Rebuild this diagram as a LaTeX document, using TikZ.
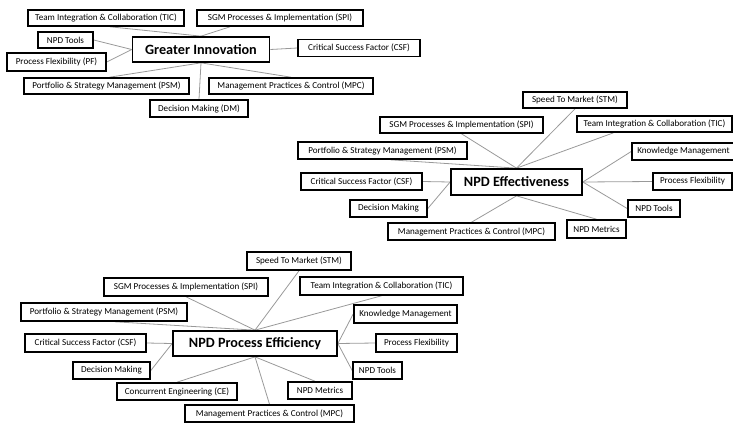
\documentclass[tikz,border=0pt]{standalone}
\usepackage{fontspec}
\setmainfont{Carlito}
\usetikzlibrary{backgrounds}
\begin{document}
\begin{tikzpicture}[x=1pt,y=-1pt,
  sat/.style={draw=black, line width=1.6pt, fill=white, inner sep=0pt, font=\fontsize{9.1}{10}\selectfont},
  hub/.style={sat, line width=1.7pt, font=\bfseries\fontsize{14.2}{16}\selectfont},
  conn/.style={draw=black!40, line width=0.8pt}]
\useasboundingbox (0,0) rectangle (733,424);
\clip (0,0) rectangle (733,424);
% ---------- Cluster 1: Greater Innovation ----------
\node[hub, minimum width=137pt, minimum height=25pt] (g) at (201,49.5) {Greater Innovation};
\node[sat, minimum width=156pt, minimum height=16pt] (g-tic) at (106,18) {Team Integration \& Collaboration (TIC)};
\node[sat, minimum width=166pt, minimum height=16pt] (g-spi) at (280,18) {SGM Processes \& Implementation (SPI)};
\node[sat, minimum width=55pt, minimum height=16pt] (g-tools) at (65.5,40) {NPD Tools};
\node[sat, minimum width=99pt, minimum height=18pt] (g-pf) at (56.5,62) {Process Flexibility (PF)};
\node[sat, minimum width=122pt, minimum height=17pt] (g-csf) at (359,48) {Critical Success Factor (CSF)};
\node[sat, minimum width=165pt, minimum height=16pt] (g-psm) at (106.5,86) {Portfolio \& Strategy Management (PSM)};
\node[sat, minimum width=164pt, minimum height=16pt] (g-mpc) at (291,86) {Management Practices \& Control (MPC)};
\node[sat, minimum width=98pt, minimum height=17pt] (g-dm) at (199,108.5) {Decision Making (DM)};
% ---------- Cluster 2: NPD Effectiveness ----------
\node[hub, minimum width=131pt, minimum height=26pt] (e) at (516.5,182) {NPD Effectiveness};
\node[sat, minimum width=104pt, minimum height=16pt] (e-stm) at (575,100) {Speed To Market (STM)};
\node[sat, minimum width=163pt, minimum height=16pt] (e-spi) at (461.5,125) {SGM Processes \& Implementation (SPI)};
\node[sat, minimum width=155pt, minimum height=16pt] (e-tic) at (654.5,124) {Team Integration \& Collaboration (TIC)};
\node[sat, minimum width=169pt, minimum height=17pt] (e-psm) at (382.5,150.5) {Portfolio \& Strategy Management (PSM)};
\node[sat, minimum width=103pt, minimum height=17pt] (e-km) at (683.5,151.5) {Knowledge Management};
\node[sat, minimum width=121pt, minimum height=17pt] (e-csf) at (361.5,181.5) {Critical Success Factor (CSF)};
\node[sat, minimum width=79pt, minimum height=17pt] (e-pf) at (692.5,181.5) {Process Flexibility};
\node[sat, minimum width=77pt, minimum height=17pt] (e-dm) at (388.5,208.5) {Decision Making};
\node[sat, minimum width=52pt, minimum height=17pt] (e-tools) at (654,208.5) {NPD Tools};
\node[sat, minimum width=167pt, minimum height=17pt] (e-mpc) at (471.5,231.5) {Management Practices \& Control (MPC)};
\node[sat, minimum width=59pt, minimum height=18pt] (e-met) at (596.5,229) {NPD Metrics};
% ---------- Cluster 3: NPD Process Efficiency ----------
\node[hub, minimum width=164pt, minimum height=25pt] (p) at (255,343.5) {NPD Process Efficiency};
\node[sat, minimum width=104pt, minimum height=18pt] (p-stm) at (299,261) {Speed To Market (STM)};
\node[sat, minimum width=164pt, minimum height=18pt] (p-spi) at (186,287) {SGM Processes \& Implementation (SPI)};
\node[sat, minimum width=163pt, minimum height=18pt] (p-tic) at (381.5,286) {Team Integration \& Collaboration (TIC)};
\node[sat, minimum width=166pt, minimum height=18pt] (p-psm) at (104,312) {Portfolio \& Strategy Management (PSM)};
\node[sat, minimum width=103pt, minimum height=18pt] (p-km) at (405.5,314) {Knowledge Management};
\node[sat, minimum width=121pt, minimum height=18pt] (p-csf) at (85.5,343) {Critical Success Factor (CSF)};
\node[sat, minimum width=81pt, minimum height=18pt] (p-pf) at (416.5,343) {Process Flexibility};
\node[sat, minimum width=77pt, minimum height=17pt] (p-dm) at (111.5,370.5) {Decision Making};
\node[sat, minimum width=49pt, minimum height=17pt] (p-tools) at (377.5,370.5) {NPD Tools};
\node[sat, minimum width=120pt, minimum height=17pt] (p-ce) at (177,391.5) {Concurrent Engineering (CE)};
\node[sat, minimum width=64pt, minimum height=17pt] (p-met) at (320,390.5) {NPD Metrics};
\node[sat, minimum width=169pt, minimum height=17pt] (p-mpc) at (269.5,413.5) {Management Practices \& Control (MPC)};
% ---------- connectors ----------
\begin{scope}[on background layer]
\draw[conn] ([xshift=4pt]g-tic.south) -- (g.north);
\draw[conn] ([xshift=-50pt]g-spi.south) -- (g.north);
\draw[conn] (g-tools.east) -- (g.west);
\draw[conn] (g-pf.east) -- (g.west);
\draw[conn] (g.east) -- (g-csf.west);
\draw[conn] ([xshift=3pt]g-psm.north) -- (g.south);
\draw[conn] (g-mpc.north) -- (g.south);
\draw[conn] (g-dm.north) -- (g.south);
%
\draw[conn] (e-stm.south) -- (e.north);
\draw[conn] (e-spi.south) -- (e.north);
\draw[conn] ([xshift=8pt]e-psm.south) -- (e.north);
\draw[conn] ([xshift=-41pt]e-tic.south) -- (e.north);
\draw[conn] (e-km.west) -- (e.east);
\draw[conn] (e.east) -- (e-pf.west);
\draw[conn] (e-tools.west) -- (e.east);
\draw[conn] (e-csf.east) -- (e.west);
\draw[conn] (e-dm.east) -- (e.west);
\draw[conn] (e-mpc.north) -- (e.south);
\draw[conn] (e-met.north) -- (e.south);
%
\draw[conn] (p-stm.south) -- (p.north);
\draw[conn] (p-spi.south) -- (p.north);
\draw[conn] ([xshift=11pt]p-psm.south) -- (p.north);
\draw[conn] (p-tic.south) -- (p.north);
\draw[conn] (p-km.west) -- (p.east);
\draw[conn] (p.east) -- (p-pf.west);
\draw[conn] (p-tools.west) -- (p.east);
\draw[conn] (p-csf.east) -- (p.west);
\draw[conn] (p-dm.east) -- (p.west);
\draw[conn] (p-ce.north) -- (p.south);
\draw[conn] ([xshift=-5pt]p-met.north) -- (p.south);
\draw[conn] (p-mpc.north) -- (p.south);
\end{scope}
\end{tikzpicture}
\end{document}
